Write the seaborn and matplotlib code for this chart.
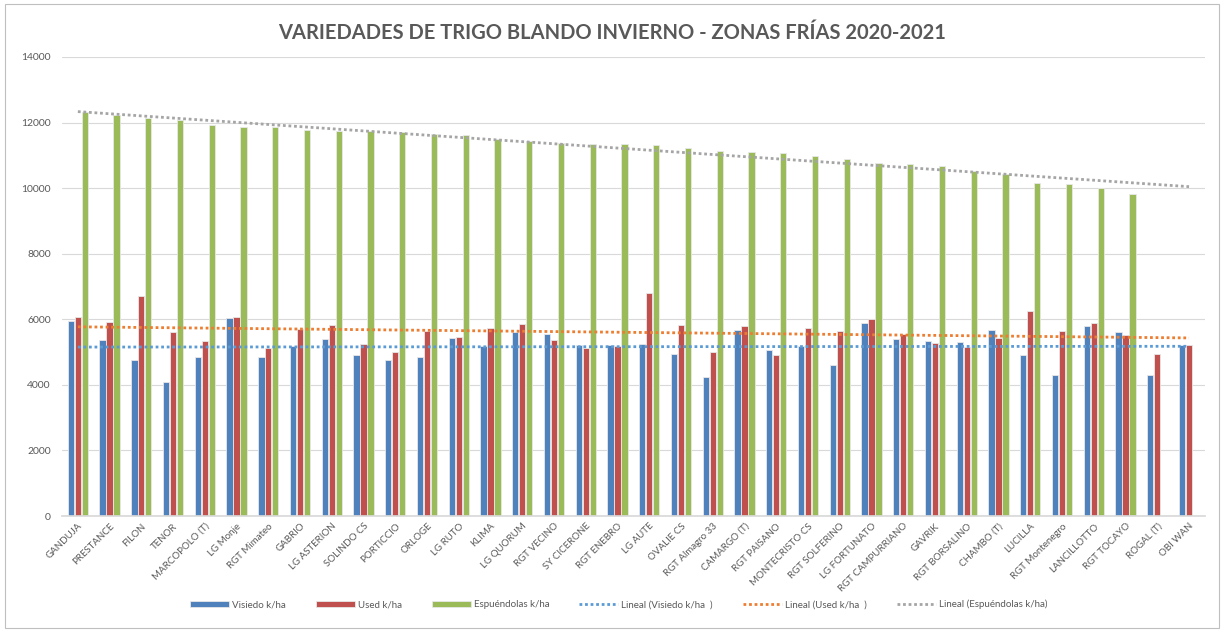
import numpy as np
import pandas as pd
import matplotlib
matplotlib.use('Agg')
import matplotlib.pyplot as plt
import seaborn as sns
from matplotlib.patches import Rectangle

# Variedades (eje X)
variedades = ['GANDUJA', 'PRESTANCE', 'FILON', 'TENOR', 'MARCOPOLO (T)', 'LG Monje',
              'RGT Mimateo', 'GABRIO', 'LG ASTERION', 'SOLINDO CS', 'PORTICCIO', 'ORLOGE',
              'LG RUTO', 'KLIMA', 'LG QUORUM', 'RGT VECINO', 'SY CICERONE', 'RGT ENEBRO',
              'LG AUTE', 'OVALIE CS', 'RGT Almagro 33', 'CAMARGO (T)', 'RGT PAISANO',
              'MONTECRISTO CS', 'RGT SOLFERINO', 'LG FORTUNATO', 'RGT CAMPURRIANO', 'GAVRIK',
              'RGT BORSALINO', 'CHAMBO (T)', 'LUCILLA', 'RGT Montenegro', 'LANCILLOTTO',
              'RGT TOCAYO', 'ROGAL (T)', 'OBI WAN']

# Rendimientos k/ha por localidad
visiedo = [5940, 5370, 4750, 4100, 4860, 6040, 4840, 5180, 5390, 4910, 4750, 4840,
           5440, 5180, 5620, 5540, 5210, 5230, 5260, 4940, 4230, 5670, 5060, 5180,
           4610, 5900, 5390, 5340, 5320, 5670, 4920, 4290, 5810, 5620, 4290, 5230]
used = [6060, 5920, 6700, 5620, 5340, 6070, 5120, 5710, 5820, 5260, 5010, 5650,
        5470, 5720, 5870, 5370, 5120, 5180, 6790, 5820, 5010, 5780, 4920, 5740,
        5650, 6000, 5560, 5290, 5170, 5440, 6250, 5650, 5880, 5520, 4940, 5210]
espuendolas = [12320, 12240, 12150, 12070, 11940, 11870, 11860, 11760, 11730, 11730, 11720, 11650,
               11610, 11510, 11440, 11380, 11360, 11340, 11330, 11220, 11140, 11090, 11060, 10990,
               10890, 10770, 10730, 10680, 10510, 10430, 10170, 10130, 10010, 9830, np.nan, np.nan]

series = ['Visiedo k/ha', 'Used k/ha', 'Espuéndolas k/ha']
bar_colors = ['#4F81BD', '#C0504D', '#9BBB59']
trend_colors = ['#5B9BD5', '#ED7D31', '#A5A5A5']
trend_labels = ['Lineal (Visiedo k/ha  )', 'Lineal (Used k/ha  )', 'Lineal (Espuéndolas k/ha)']

df = pd.DataFrame({'Variedad': variedades, series[0]: visiedo,
                   series[1]: used, series[2]: espuendolas})
long_df = df.melt(id_vars='Variedad', var_name='Serie', value_name='k/ha')

sns.set_theme(style='white')
plt.rcParams['font.family'] = ['Lato', 'DejaVu Sans']

fig = plt.figure(figsize=(12.25, 6.33), dpi=100)
ax = fig.add_axes([0.0506, 0.1848, 0.933, 0.7252])

sns.barplot(data=long_df, x='Variedad', y='k/ha', hue='Serie', hue_order=series,
            palette=bar_colors, width=0.66, gap=0.1, ax=ax, edgecolor='#E8E8E8',
            linewidth=0.6, saturation=1, legend=True)

# líneas de tendencia lineales (como Excel)
x = np.arange(1, len(variedades) + 1)
for vals, col, lab in zip([visiedo, used, espuendolas], trend_colors, trend_labels):
    v = np.array(vals, dtype=float)
    ok = ~np.isnan(v)
    m, b = np.polyfit(x[ok], v[ok], 1)
    ax.plot(x - 1, m * x + b, linestyle=(0, (1, 1)), color=col, lw=2, label=lab)

ax.set_ylim(0, 14000)
ax.set_xlim(-0.5, len(variedades) - 0.5)
ax.set_yticks(range(0, 14001, 2000))
ax.yaxis.grid(True, color='#D9D9D9', lw=0.8)
ax.set_axisbelow(True)
for s in ['top', 'right', 'left']:
    ax.spines[s].set_visible(False)
ax.spines['bottom'].set_color('#D9D9D9')
ax.set_xlabel('')
ax.set_ylabel('')
ax.tick_params(axis='y', labelsize=7.5, colors='#595959', length=0, pad=8)
ax.tick_params(axis='x', labelsize=7, colors='#595959', length=0, pad=4)
plt.setp(ax.get_xticklabels(), rotation=45, ha='right', rotation_mode='anchor')

handles, labels = ax.get_legend_handles_labels()
ax.get_legend().remove()
fig.legend(handles, labels, loc='center', bbox_to_anchor=(0.505, 0.045), ncol=6,
           frameon=False, fontsize=7, labelcolor='#595959', handlelength=4.0,
           handleheight=0.5, columnspacing=3.1, handletextpad=0.3)

fig.suptitle('VARIEDADES DE TRIGO BLANDO INVIERNO - ZONAS FRÍAS 2020-2021',
             x=0.5, y=0.964, fontsize=14.5, fontweight='bold', color='#595959')

fig.patches.append(Rectangle((0.004, 0.008), 0.991, 0.985, transform=fig.transFigure,
                             fill=False, edgecolor='#BFBFBF', lw=0.8))

fig.savefig('out.png', dpi=100)
